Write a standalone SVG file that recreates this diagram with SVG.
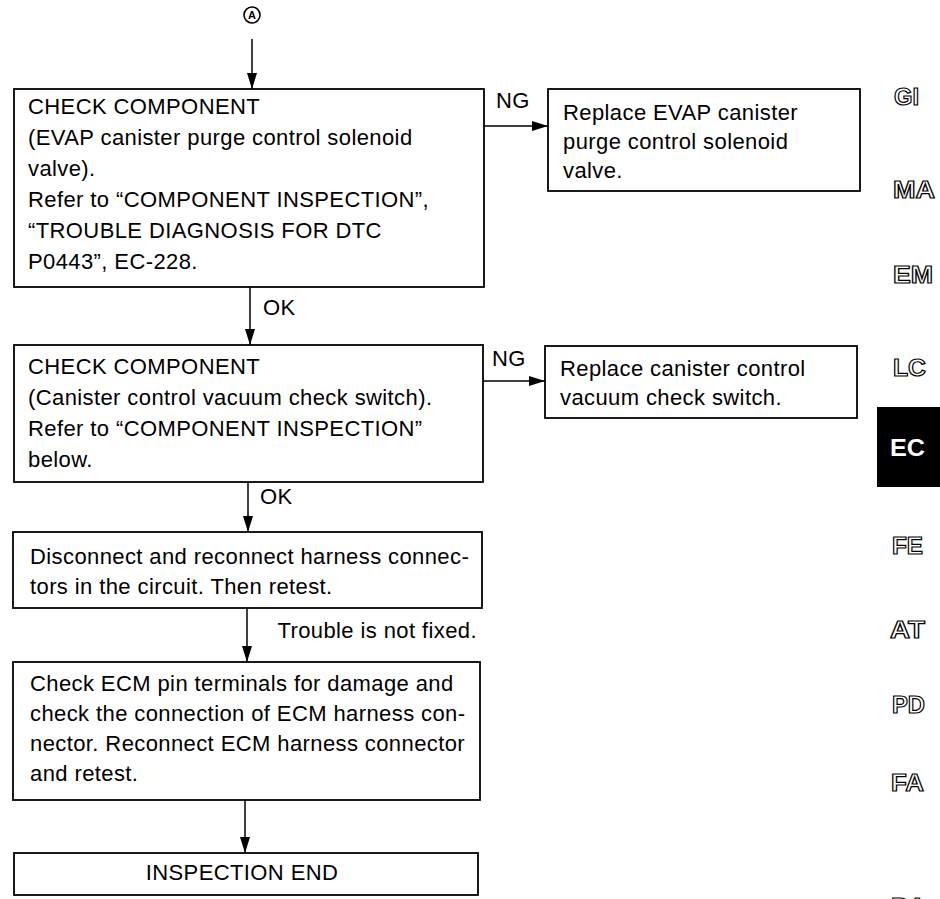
<svg xmlns="http://www.w3.org/2000/svg" width="940" height="899" viewBox="0 0 940 899">
  <style>
    .box { fill: #fff; stroke: #000; stroke-width: 1.8; }
    .t { font-family: "Liberation Sans", Arial, sans-serif; font-size: 22px; letter-spacing: 0.4px; fill: #000; }
    .c { text-anchor: middle; }
    .wire { fill: none; stroke: #000; stroke-width: 1.5; }
    .tab { font-family: "Liberation Sans", Arial, sans-serif; font-weight: bold; font-size: 24px; fill: #fff; stroke: #000; stroke-width: 1.2; }
  </style>
  <defs>
    <marker id="arrow" markerUnits="userSpaceOnUse" markerWidth="16" markerHeight="12" viewBox="0 0 16 12" refX="16" refY="6" orient="auto">
      <path d="M0,1 L16,6 L0,11 Z" fill="#000"/>
    </marker>
  </defs>
  <rect width="940" height="899" fill="#fff"/>

  <!-- entry point -->
  <g id="start">
    <circle cx="252" cy="15" r="8" fill="none" stroke="#000" stroke-width="1.6"/>
    <text x="252" y="19" text-anchor="middle" font-family="Liberation Sans, Arial, sans-serif" font-weight="bold" font-size="11">A</text>
  </g>

  <g id="check-solenoid">
    <rect class="box" x="14" y="89" width="470" height="198"/>
    <text class="t" x="28" y="114">CHECK COMPONENT</text>
    <text class="t" x="28" y="145">(EVAP canister purge control solenoid</text>
    <text class="t" x="28" y="176">valve).</text>
    <text class="t" x="28" y="207">Refer to “COMPONENT INSPECTION”,</text>
    <text class="t" x="28" y="238">“TROUBLE DIAGNOSIS FOR DTC</text>
    <text class="t" x="28" y="269">P0443”, EC-228.</text>
  </g>

  <g id="replace-solenoid">
    <rect class="box" x="548" y="89" width="312" height="102"/>
    <text class="t" x="563" y="120">Replace EVAP canister</text>
    <text class="t" x="563" y="149">purge control solenoid</text>
    <text class="t" x="563" y="178">valve.</text>
  </g>

  <g id="check-switch">
    <rect class="box" x="14" y="345" width="469" height="137"/>
    <text class="t" x="28" y="374">CHECK COMPONENT</text>
    <text class="t" x="28" y="405">(Canister control vacuum check switch).</text>
    <text class="t" x="28" y="436">Refer to “COMPONENT INSPECTION”</text>
    <text class="t" x="28" y="467">below.</text>
  </g>

  <g id="replace-switch">
    <rect class="box" x="545" y="346" width="312" height="72"/>
    <text class="t" x="560" y="376">Replace canister control</text>
    <text class="t" x="560" y="405">vacuum check switch.</text>
  </g>

  <g id="reconnect">
    <rect class="box" x="13" y="532" width="469" height="76"/>
    <text class="t" x="30" y="564">Disconnect and reconnect harness connec-</text>
    <text class="t" x="30" y="594">tors in the circuit. Then retest.</text>
  </g>

  <g id="check-ecm">
    <rect class="box" x="13" y="662" width="467" height="138"/>
    <text class="t" x="30" y="691">Check ECM pin terminals for damage and</text>
    <text class="t" x="30" y="721">check the connection of ECM harness con-</text>
    <text class="t" x="30" y="751">nector. Reconnect ECM harness connector</text>
    <text class="t" x="30" y="781">and retest.</text>
  </g>

  <g id="end">
    <rect class="box" x="14" y="853" width="464" height="42"/>
    <text class="t c" x="242" y="880">INSPECTION END</text>
  </g>

  <g id="connectors">
    <line class="wire" x1="252" y1="39" x2="252" y2="89" marker-end="url(#arrow)"/>
    <line class="wire" x1="484" y1="126" x2="548" y2="126" marker-end="url(#arrow)"/>
    <text class="t" x="496" y="108">NG</text>
    <line class="wire" x1="250" y1="287" x2="250" y2="345" marker-end="url(#arrow)"/>
    <text class="t" x="263" y="315">OK</text>
    <line class="wire" x1="483" y1="381" x2="545" y2="381" marker-end="url(#arrow)"/>
    <text class="t" x="492" y="366">NG</text>
    <line class="wire" x1="248" y1="482" x2="248" y2="532" marker-end="url(#arrow)"/>
    <text class="t" x="260" y="504">OK</text>
    <line class="wire" x1="247" y1="608" x2="247" y2="662" marker-end="url(#arrow)"/>
    <text class="t" x="477" y="638" text-anchor="end">Trouble is not fixed.</text>
    <line class="wire" x1="245" y1="800" x2="245" y2="853" marker-end="url(#arrow)"/>
  </g>

  <!-- section index tabs -->
  <g id="tabs">
    <text class="tab" x="894" y="105" textLength="25" lengthAdjust="spacingAndGlyphs">GI</text>
    <text class="tab" x="893" y="198" textLength="42" lengthAdjust="spacingAndGlyphs">MA</text>
    <text class="tab" x="893" y="283" textLength="40" lengthAdjust="spacingAndGlyphs">EM</text>
    <text class="tab" x="893" y="376" textLength="33" lengthAdjust="spacingAndGlyphs">LC</text>
    <rect x="877" y="407" width="63" height="80" fill="#000"/>
    <text x="890" y="456" font-family="Liberation Sans, Arial, sans-serif" font-weight="bold" font-size="24" fill="#fff" textLength="35" lengthAdjust="spacingAndGlyphs">EC</text>
    <text class="tab" x="892" y="554" textLength="31" lengthAdjust="spacingAndGlyphs">FE</text>
    <text class="tab" x="890" y="638" textLength="35" lengthAdjust="spacingAndGlyphs">AT</text>
    <text class="tab" x="892" y="713" textLength="33" lengthAdjust="spacingAndGlyphs">PD</text>
    <text class="tab" x="891" y="791" textLength="33" lengthAdjust="spacingAndGlyphs">FA</text>
    <text class="tab" x="891" y="915" textLength="35" lengthAdjust="spacingAndGlyphs">BA</text>
  </g>
</svg>
